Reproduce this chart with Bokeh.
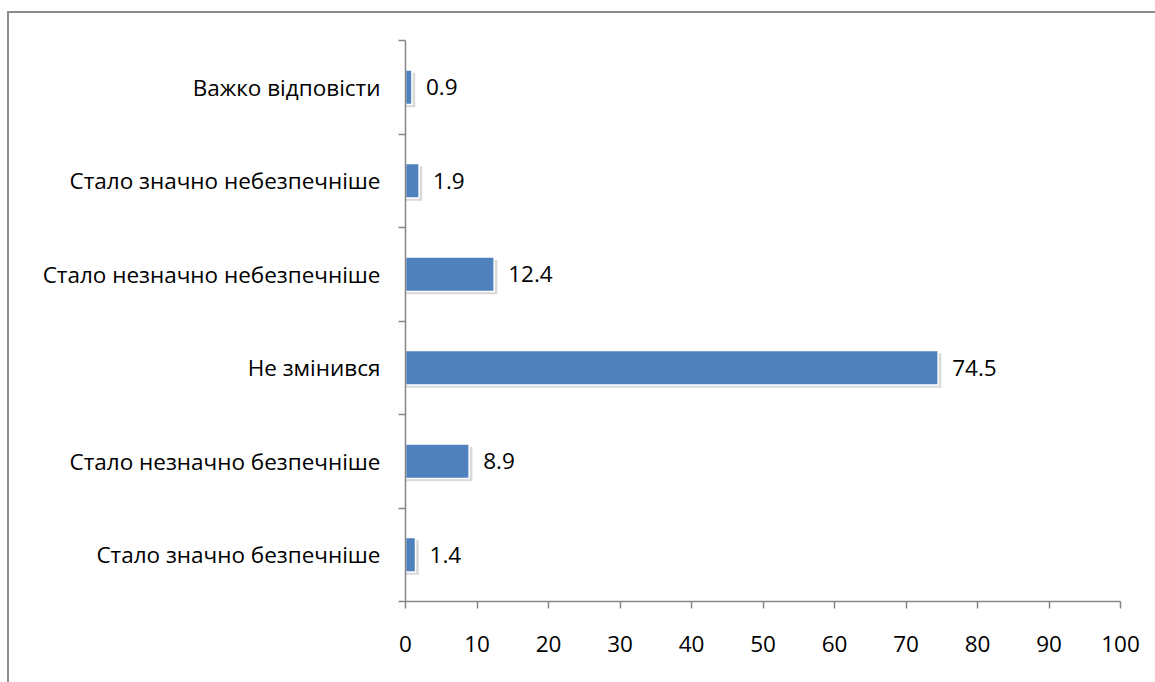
from bokeh.plotting import figure
from bokeh.models import ColumnDataSource, FixedTicker
from bokeh.transform import dodge
from bokeh.core.properties import value
from bokeh.embed import file_html
from bokeh.resources import INLINE

categories = [
    "Стало значно безпечніше",
    "Стало незначно безпечніше",
    "Не змінився",
    "Стало незначно небезпечніше",
    "Стало значно небезпечніше",
    "Важко відповісти",
]
values = [1.4, 8.9, 74.5, 12.4, 1.9, 0.9]
x_ticks = [0, 10, 20, 30, 40, 50, 60, 70, 80, 90, 100]

ypos = [i + 0.5 for i in range(len(categories))]
labels = [f"{v:.1f}" for v in values]
src = ColumnDataSource(dict(y=ypos, v=values, lab=labels))

FONT = "Open Sans"
FS = "22.5px"

p = figure(width=1148, height=671, output_backend="svg", toolbar_location=None,
           x_range=(0, 100), y_range=(0, len(categories)),
           min_border_left=396, min_border_right=37, min_border_top=27, min_border_bottom=83)
p.margin = (11, 0, 0, 7)
p.styles = {"border-left": "2px solid #8c8c8c", "border-top": "2px solid #8c8c8c", "box-sizing": "border-box"}
p.outline_line_color = None
p.xgrid.visible = False
p.ygrid.visible = False
p.background_fill_color = "white"
p.border_fill_color = "white"

# shadow
p.hbar(y=dodge("y", -0.03), right=dodge("v", 0.45), left=0, height=0.37, source=src,
       fill_color="#000000", fill_alpha=0.15, line_color=None)
p.hbar(y="y", right="v", left=0, height=0.37, source=src,
       fill_color="#4f81bd", line_color="white", line_width=1.5)

p.text(x="v", y="y", text="lab", source=src, x_offset=14, text_baseline="middle",
       text_align="left", text_font=value(FONT), text_font_size=FS, text_color="black")

AX = "#868686"
xa = p.xaxis[0]
xa.ticker = FixedTicker(ticks=x_ticks)
xa.axis_line_color = AX
xa.axis_line_width = 1.5
xa.major_tick_line_color = AX
xa.major_tick_line_width = 1.5
xa.major_tick_out = 7
xa.major_tick_in = 0
xa.minor_tick_line_color = None
xa.major_label_standoff = 27
xa.major_label_text_font = FONT
xa.major_label_text_font_size = FS
xa.major_label_text_color = "black"

ya = p.yaxis[0]
ya.ticker = FixedTicker(ticks=ypos, minor_ticks=list(range(len(categories) + 1)))
ya.major_label_overrides = {y: c for y, c in zip(ypos, categories)}
ya.axis_line_color = AX
ya.axis_line_width = 1.5
ya.major_tick_line_color = None
ya.major_tick_out = 0
ya.major_tick_in = 0
ya.minor_tick_line_color = AX
ya.minor_tick_line_width = 1.5
ya.minor_tick_out = 7
ya.minor_tick_in = 0
ya.major_label_standoff = 18
ya.major_label_text_font = FONT
ya.major_label_text_font_size = FS
ya.major_label_text_color = "black"

open("out.html", "w").write(file_html(p, INLINE))
